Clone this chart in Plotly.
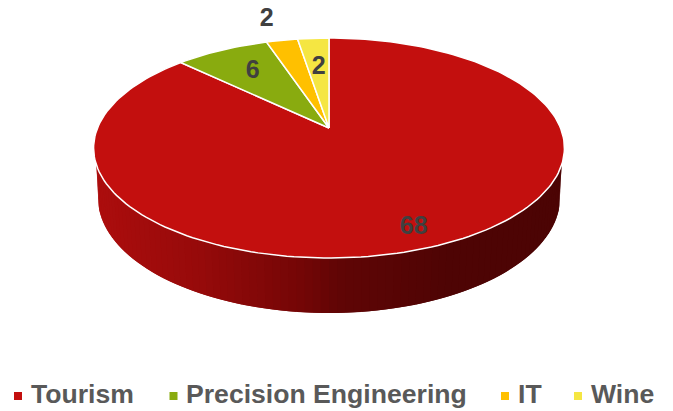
import math
import numpy as np
import plotly.graph_objects as go

categories = ["Tourism", "Precision Engineering", "IT", "Wine"]
values = [68, 6, 2, 2]
colors = ["#C30F0E", "#89AB0F", "#FFC000", "#F5E642"]
label_radius = [0.84, 0.70, 1.32, 0.68]
label_dx = [-4, 2, -3, 1]
label_dy = [4, 1, 2, 4]
legend_square_x = [18, 173.5, 505, 578]
legend_text_x = [28.5, 184, 515.5, 588.5]
LEGEND_Y = 396
LEGEND_TEXT_Y = 394

# Perspective projection of the pie's top disc onto the page
CX, APEX_Y, D, C, A = 329, 128, 231.5, 40 / 220, 38 * 40 / 220 - 90


def project(u, v):
    den = 1 + C * v
    return CX + D * u / den, (A * v + APEX_Y) / den


def arc(a0, a1):
    n = max(3, int(abs(a1 - a0) / 1.5))
    th = np.radians(np.linspace(a0, a1, n))
    return project(np.sin(th), np.cos(th))


fig = go.Figure()

# Side wall, shaded left to right
stop_x = [95, 200, 300, 340, 450, 562]
stop_r = [172, 150, 116, 96, 78, 76]
stop_g = [13, 10, 6, 5, 4, 4]
TOP_CY, TOP_RX, TOP_RY = 148, 235.5, 110
BOT_CY, BOT_RX, BOT_RY = 198, 231, 115
PHI_MIN = 9


def wall(phi):
    pt = max(phi, PHI_MIN) if phi < 90 else min(phi, 180 - PHI_MIN)
    a, b = math.radians(pt), math.radians(phi)
    return (CX - TOP_RX * math.cos(a), TOP_CY + TOP_RY * math.sin(a),
            CX - BOT_RX * math.cos(b), BOT_CY + BOT_RY * math.sin(b))


phis = np.linspace(0, 180, 91)
for i in range(len(phis) - 1):
    seg = phis[i:i + 3]
    pts = [wall(p) for p in seg]
    xm = (pts[0][0] + pts[1][0]) / 2
    g = np.interp(xm, stop_x, stop_g)
    col = f"rgb({np.interp(xm, stop_x, stop_r):.0f},{g:.0f},{g:.0f})"
    xs = [p[0] for p in pts] + [p[2] for p in reversed(pts)]
    ys = [p[1] for p in pts] + [p[3] for p in reversed(pts)]
    fig.add_trace(go.Scatter(x=xs + xs[:1], y=ys + ys[:1], mode="lines", fill="toself",
                             fillcolor=col, line=dict(width=0), hoverinfo="skip", showlegend=False))

# Top faces
total = sum(values)
start = 0.0
mids = []
for name, val, col in zip(categories, values, colors):
    end = start + val / total * 360
    mids.append((start + end) / 2)
    ax, ay = arc(start, end)
    fig.add_trace(go.Scatter(x=[CX, *ax, CX], y=[APEX_Y, *ay, APEX_Y], mode="lines", fill="toself",
                             fillcolor=col, line=dict(color="white", width=1.5), name=name,
                             text=f"{name}: {val}", hoverinfo="text", showlegend=False))
    start = end

# Data labels
for val, mid, r, dx, dy in zip(values, mids, label_radius, label_dx, label_dy):
    th = math.radians(mid)
    lx, ly = project(r * math.sin(th), r * math.cos(th))
    fig.add_trace(go.Scatter(x=[lx + dx], y=[ly + dy], mode="text", text=[str(val)], hoverinfo="skip", showlegend=False,
                             textfont=dict(family="Liberation Sans", size=25, color="#404040", weight="bold")))

# Legend row
for name, col, sx, tx in zip(categories, colors, legend_square_x, legend_text_x):
    fig.add_trace(go.Scatter(x=[sx], y=[LEGEND_Y], mode="markers", hoverinfo="skip", showlegend=False,
                             marker=dict(symbol="square", size=8, color=col)))
    fig.add_annotation(x=tx, y=LEGEND_TEXT_Y, text=f"<b>{name}</b>", showarrow=False, xanchor="left",
                       yanchor="middle", font=dict(family="Liberation Sans", size=26.6, color="#595959"))

fig.update_layout(width=673, height=411, margin=dict(l=0, r=0, t=0, b=0),
                  paper_bgcolor="white", plot_bgcolor="white", showlegend=False,
                  xaxis=dict(range=[0, 673], visible=False, fixedrange=True),
                  yaxis=dict(range=[411, 0], visible=False, fixedrange=True))
fig.write_html("out.html", config=dict(displayModeBar=False), post_script="document.body.style.margin='0';")
